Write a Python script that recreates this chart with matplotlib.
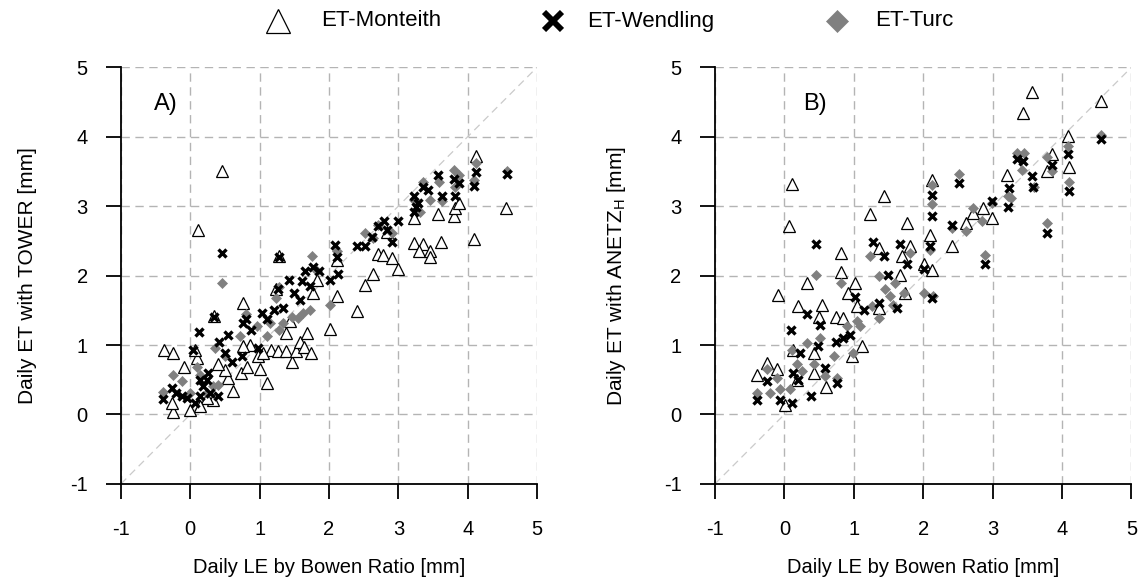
import numpy as np
import matplotlib
matplotlib.use("Agg")
import matplotlib.pyplot as plt
from matplotlib.lines import Line2D

plt.rcParams['font.family'] = ['Liberation Sans', 'DejaVu Sans']
plt.rcParams['axes.unicode_minus'] = False

# ---- panel A: TOWER vs Bowen ratio ----
a_mon_x = [0.46, 0.115, -0.38, -0.25, -0.09, -0.25, 0.0, -0.27, 0.09, 0.07, 0.76, 0.34, 1.23, 1.28,
           1.82, 1.77, 2.12, 2.11, 2.02, 2.41, 2.52, 2.63, 2.70, 2.78, 2.91, 2.99, 2.84, 3.23, 3.23,
           3.35, 3.30, 3.46, 3.46, 3.61, 3.57, 3.80, 3.82, 3.87, 4.09, 4.12, 4.55,
           0.98, 1.01, 1.10, 1.16, 1.27, 1.38, 1.47, 1.53, 1.58, 1.68, 1.64, 1.74, 1.38, 1.44,
           0.73, 0.82, 0.86, 0.61, 0.55, 0.50, 0.40, 0.33, 0.24, 0.14, 1.05, 0.76]
a_mon_y = [3.51, 2.65, 0.93, 0.88, 0.68, 0.03, 0.07, 0.17, 0.81, 0.93, 1.61, 1.42, 1.81, 2.28,
           1.94, 1.75, 1.70, 2.23, 1.23, 1.49, 1.86, 2.03, 2.31, 2.30, 2.25, 2.10, 2.63, 2.47, 2.83,
           2.45, 2.36, 2.35, 2.27, 2.49, 2.89, 2.86, 2.97, 3.04, 2.53, 3.72, 2.98,
           0.84, 0.65, 0.45, 0.93, 0.91, 0.91, 0.76, 0.91, 1.05, 1.18, 0.97, 0.89, 1.18, 1.34,
           0.60, 0.69, 1.00, 0.34, 0.52, 0.64, 0.72, 0.21, 0.24, 0.12, 0.89, 0.98]

a_wen_x = [0.46, 0.12, 0.34, 0.54, 0.41, 1.28, -0.39, -0.27, -0.20, -0.12, -0.05, 0.07, 0.14, 0.19,
           0.24, 0.28, 0.40, 0.14, 0.26, 0.04, 0.50, 0.60, 0.74, 0.76, 0.81, 0.88, 1.03, 1.10, 0.98,
           1.20, 1.34, 1.27, 1.43, 1.49, 1.58, 1.61, 1.65, 1.73, 1.77, 1.85, 2.01, 2.13, 2.09, 2.12,
           2.41, 2.52, 2.62, 2.71, 2.79, 2.84, 2.91, 3.00, 3.22, 3.25, 3.29, 3.35, 3.43, 3.57, 3.63,
           3.80, 3.87, 3.82, 4.12, 4.09, 4.56, 3.22]
a_wen_y = [2.32, 1.19, 1.40, 1.15, 1.05, 2.27, 0.22, 0.38, 0.31, 0.26, 0.24, 0.17, 0.26, 0.41,
           0.50, 0.31, 0.26, 0.50, 0.60, 0.93, 0.88, 0.76, 0.84, 1.32, 1.37, 1.22, 1.46, 1.37, 0.95,
           1.51, 1.53, 1.80, 1.94, 1.75, 1.65, 1.92, 2.06, 1.85, 2.13, 2.06, 1.94, 2.03, 2.44, 2.27,
           2.42, 2.42, 2.56, 2.72, 2.78, 2.66, 2.48, 2.79, 3.14, 2.99, 3.04, 3.28, 3.23, 3.45, 3.14,
           3.39, 3.33, 3.14, 3.49, 3.29, 3.47, 2.92]

a_tur_x = [0.46, -0.39, -0.25, -0.12, 0.09, 0.14, 0.33, 0.40, 0.35, 0.50, 0.72, 0.81, 0.96, 1.10,
           1.15, 1.28, 1.34, 1.46, 1.56, 1.63, 1.73, 1.24, 1.28, 1.76, 1.82, 2.02, 2.12, 2.52, 2.64,
           2.91, 2.71, 3.22, 3.31, 3.35, 3.46, 3.58, 3.63, 3.80, 3.87, 3.82, 4.12, 4.09, 4.56, 0.0, 0.24]
a_tur_y = [1.90, 0.32, 0.57, 0.48, 0.69, 0.57, 0.41, 0.43, 0.96, 0.84, 1.13, 1.44, 1.27, 1.13,
           1.32, 1.22, 1.32, 1.41, 1.39, 1.46, 1.51, 1.68, 1.84, 2.28, 2.06, 1.57, 2.35, 2.61, 2.54,
           2.61, 2.73, 3.09, 2.92, 3.35, 3.09, 3.35, 3.07, 3.52, 3.45, 3.28, 3.62, 3.38, 3.51, 0.31, 0.31]

# ---- panel B: ANETZ_H vs Bowen ratio ----
b_mon_x = [0.11, 0.07, -0.09, -0.39, -0.25, -0.11, 0.01, 0.20, 0.33, 0.42, 0.42, 0.50, 0.54, 0.60,
           0.75, 0.81, 0.81, 0.85, 0.98, 0.92, 1.02, 1.05, 1.12, 1.24, 1.37, 1.36, 1.43, 1.67, 1.70,
           1.76, 1.74, 1.81, 2.01, 2.10, 2.13, 2.12, 0.13, 0.18,
           2.41, 2.62, 2.72, 2.86, 2.99, 3.21, 3.44, 3.56, 3.78, 3.86, 4.08, 4.10, 4.56]
b_mon_y = [3.32, 2.71, 1.72, 0.57, 0.74, 0.65, 0.14, 1.56, 1.89, 0.88, 0.60, 1.41, 1.58, 0.40,
           1.41, 2.32, 2.05, 1.39, 0.84, 1.75, 1.89, 1.56, 0.98, 2.89, 2.40, 1.54, 3.14, 2.01, 2.28,
           2.76, 1.75, 2.42, 2.17, 2.59, 2.08, 3.38, 0.93, 0.50,
           2.42, 2.76, 2.90, 2.97, 2.83, 3.45, 4.34, 4.65, 3.50, 3.75, 4.01, 3.57, 4.52]

b_wen_x = [0.46, 0.09, 0.33, 0.52, 0.23, 0.12, -0.39, -0.25, -0.06, 0.11, 0.39, 0.20, 0.49, 0.59,
           0.76, 0.75, 0.85, 0.94, 1.02, 1.14, 1.27, 1.43, 1.36, 1.49, 1.67, 1.76, 1.62, 2.01, 2.12,
           2.12, 2.10, 2.13,
           2.41, 2.52, 2.89, 2.99, 3.22, 3.24, 3.35, 3.44, 3.56, 3.58, 3.79, 3.85, 4.08, 4.10, 4.56]
b_wen_y = [2.45, 1.22, 1.45, 1.29, 0.88, 0.60, 0.21, 0.48, 0.21, 0.17, 0.26, 0.50, 0.98, 0.67,
           0.45, 1.05, 1.10, 1.15, 1.69, 1.51, 2.49, 2.28, 1.61, 2.01, 2.46, 2.16, 1.54, 2.10, 3.16,
           2.86, 2.42, 1.68,
           2.73, 3.34, 2.16, 3.08, 2.99, 3.26, 3.68, 3.65, 3.43, 3.28, 2.61, 3.59, 3.75, 3.22, 3.97]

b_tur_x = [0.46, -0.39, -0.25, -0.21, -0.11, -0.06, 0.08, 0.11, 0.18, 0.25, 0.32, 0.42, 0.51, 0.59,
           0.71, 0.76, 0.81, 0.90, 0.99, 1.04, 1.09, 1.23, 1.26, 1.36, 1.36, 1.45, 1.52, 1.57, 1.60,
           1.72, 1.81, 2.12, 2.12, 2.10, 2.01, 2.14,
           2.41, 2.52, 2.62, 2.72, 2.85, 2.89, 2.99, 3.22, 3.27, 3.35, 3.43, 3.45, 3.60, 3.79, 3.79,
           3.85, 4.08, 4.10, 4.56]
b_tur_y = [2.01, 0.31, 0.65, 0.31, 0.53, 0.36, 0.36, 0.93, 0.72, 0.62, 1.03, 0.72, 1.10, 0.55,
           0.84, 0.53, 1.90, 1.27, 0.88, 1.34, 1.27, 2.28, 1.56, 1.39, 1.99, 1.80, 1.70, 1.58, 1.89,
           1.75, 2.32, 3.31, 3.03, 2.37, 1.75, 1.70,
           2.68, 3.47, 2.64, 2.97, 2.78, 2.30, 3.05, 3.14, 3.12, 3.77, 3.52, 3.77, 3.28, 3.71, 2.76,
           3.50, 3.87, 3.35, 4.03]

ticks = [-1, 0, 1, 2, 3, 4, 5]
series_names = ['ET-Monteith', 'ET-Wendling', 'ET-Turc']

fig = plt.figure(figsize=(11.39, 5.83), dpi=100)
ax_a = fig.add_axes([0.1062, 0.170, 0.3653, 0.7146])
ax_b = fig.add_axes([0.6277, 0.170, 0.3657, 0.7146])

mon_style = dict(ls='none', marker='^', mfc='white', mec='black')
tur_style = dict(ls='none', marker='D', mfc='#808080', mec='#808080')
wen_style = dict(ls='none', marker='x', mec='black')

panels = [
    (ax_a, a_mon_x, a_mon_y, a_wen_x, a_wen_y, a_tur_x, a_tur_y,
     'Daily ET with TOWER [mm]', 'A)', -0.52, 24),
    (ax_b, b_mon_x, b_mon_y, b_wen_x, b_wen_y, b_tur_x, b_tur_y,
     r'Daily ET with ANETZ$_\mathregular{H}$ [mm]', 'B)', 0.27, 26),
]

for ax, mx, my, wx, wy, tx, ty, ylab, tag, tag_x, ypad in panels:
    ax.set_xlim(-1, 5)
    ax.set_ylim(-1, 5)
    ax.set_xticks(ticks)
    ax.set_yticks(ticks)
    ax.grid(True, color='#b4b4b4', ls=(0, (6, 4)), lw=1.0)
    ax.set_axisbelow(True)
    ax.plot([-1, 5], [-1, 5], color='#cacaca', ls=(0, (6, 4)), lw=0.9, zorder=1)

    ax.plot(mx, my, **mon_style, ms=8.5, mew=0.9, zorder=3)
    ax.plot(tx, ty, **tur_style, ms=5.0, mew=0.5, zorder=4)
    ax.plot(wx, wy, **wen_style, ms=5.8, mew=2.4, zorder=5)

    for side in ('top', 'right'):
        ax.spines[side].set_visible(False)
    for side in ('left', 'bottom'):
        ax.spines[side].set_linewidth(1.3)
    ax.tick_params(direction='out', length=11, width=1.3, labelsize=14.5)
    ax.tick_params(axis='x', pad=15)
    ax.tick_params(axis='y', pad=13)

    ax.set_xlabel('Daily LE by Bowen Ratio [mm]', fontsize=14.5, labelpad=14)
    ax.set_ylabel(ylab, fontsize=15, labelpad=ypad)
    ax.text(tag_x, 4.47, tag, fontsize=17, ha='left', va='center')

# legend row across the top of the figure
leg_y = 1 - 21 / 583
marker_x = [278, 553, 837]
text_x = [321, 587, 875]
leg_marks = [
    dict(mon_style, ms=17, mew=0.9),
    dict(wen_style, ms=13, mew=4.2),
    dict(tur_style, ms=11, mew=0.5),
]
for name, mxp, txp, style in zip(series_names, marker_x, text_x, leg_marks):
    fig.add_artist(Line2D([mxp / 1139], [leg_y], transform=fig.transFigure, **style))
    fig.text(txp / 1139, leg_y, name, fontsize=16, ha='left', va='center')

fig.savefig('out.png', dpi=100)
